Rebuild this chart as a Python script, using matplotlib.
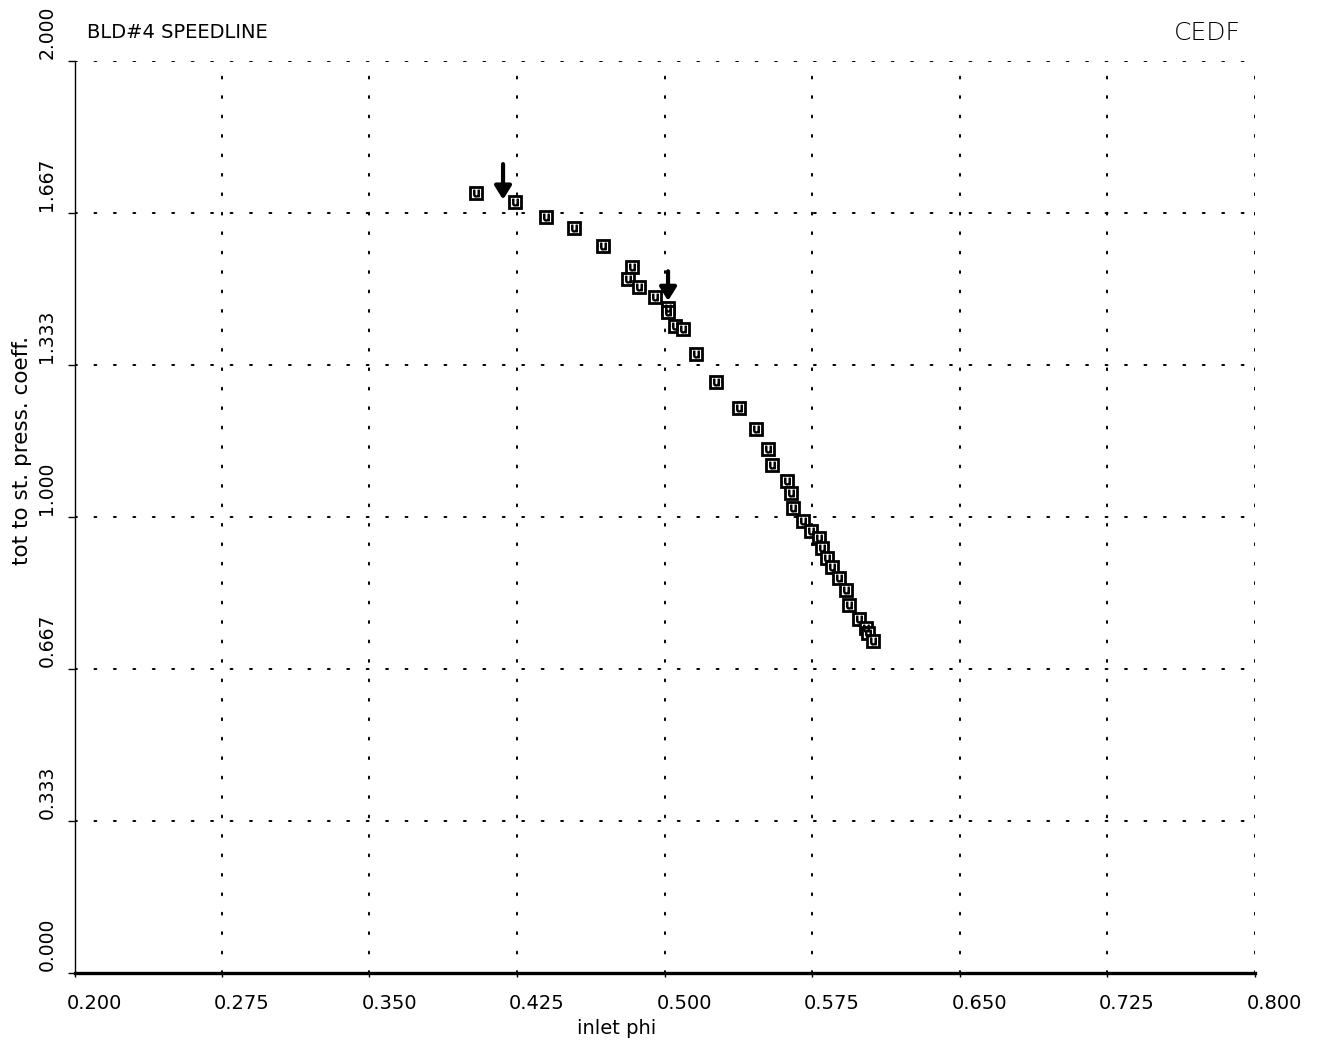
import matplotlib
matplotlib.use("Agg")
import matplotlib.pyplot as plt
import matplotlib.transforms as mtransforms

# ---- data ----
phi = [0.4042, 0.4240, 0.4397, 0.4540, 0.4687, 0.4835, 0.4814, 0.4870, 0.4952,
       0.5018, 0.5018, 0.5053, 0.5094, 0.5160, 0.5262, 0.5379, 0.5465, 0.5526,
       0.5547, 0.5623, 0.5643, 0.5653, 0.5704, 0.5745, 0.5786, 0.5801, 0.5826,
       0.5852, 0.5887, 0.5923, 0.5938, 0.5989, 0.6025, 0.6035, 0.6060]
psi = [1.710, 1.690, 1.658, 1.633, 1.594, 1.548, 1.521, 1.504, 1.482,
       1.458, 1.449, 1.418, 1.412, 1.357, 1.295, 1.240, 1.194, 1.150,
       1.113, 1.080, 1.052, 1.019, 0.992, 0.970, 0.955, 0.931, 0.911,
       0.891, 0.867, 0.841, 0.806, 0.777, 0.757, 0.746, 0.729]

arrow_x = [0.4179, 0.5018]
arrow_top = [1.780, 1.545]
arrow_tip = [1.690, 1.468]

xticks = [0.200, 0.275, 0.350, 0.425, 0.500, 0.575, 0.650, 0.725, 0.800]
xticklabels = ["0.200", "0.275", "0.350", "0.425", "0.500", "0.575", "0.650", "0.725", "0.800"]
yticks = [0.0, 1/3, 2/3, 1.0, 4/3, 5/3, 2.0]
yticklabels = ["0.000", "0.333", "0.667", "1.000", "1.333", "1.667", "2.000"]

title = "BLD#4 SPEEDLINE"
xlabel = "inlet phi"
ylabel = "tot to st. press. coeff."

W, H = 1317, 1044
fig = plt.figure(figsize=(W / 100, H / 100), dpi=100)
ax = fig.add_axes([74.5 / W, 1 - 973 / H, (1254.5 - 74.5) / W, (973 - 61) / H])
ax.set_xlim(0.200, 0.800)
ax.set_ylim(0.0, 2.0)

# dotted grid
ax.set_xticks(xticks)
ax.set_yticks(yticks)
ax.grid(True, color="black", linestyle=(0, (1, 9)), linewidth=1.4,
        dash_capstyle="round")
ax.set_axisbelow(True)

for s in ["top", "right"]:
    ax.spines[s].set_visible(False)
ax.spines["left"].set_linewidth(1.0)
ax.spines["bottom"].set_linewidth(2.4)

ax.tick_params(axis="x", length=3, width=1, pad=12, labelsize=14)
ax.tick_params(axis="y", length=5, width=1, pad=12, labelsize=13.5)
ax.set_xticklabels(xticklabels)
ax.set_yticklabels(yticklabels)
for lab in ax.get_xticklabels():
    lab.set_ha("left")
    lab.set_transform(lab.get_transform() +
                      mtransforms.ScaledTranslation(-8 / 100, 0, fig.dpi_scale_trans))
for lab in ax.get_yticklabels():
    lab.set_rotation(90)
    lab.set_va("bottom")
    lab.set_ha("center")
    lab.set_transform(lab.get_transform() +
                      mtransforms.ScaledTranslation(-4 / 100, 2 / 100, fig.dpi_scale_trans))

# data points
ax.plot(phi, psi, linestyle="none", marker="s", markersize=8.3,
        markerfacecolor="white", markeredgecolor="black", markeredgewidth=2.0,
        zorder=3)
ax.plot(phi, psi, linestyle="none", marker="$\\mathsf{u}$", markersize=5,
        color="black", zorder=4)

# arrows
for xa, yt, yb in zip(arrow_x, arrow_top, arrow_tip):
    ax.annotate("", xy=(xa, yb), xytext=(xa, yt),
                arrowprops=dict(arrowstyle="-|>,head_width=0.5,head_length=0.8",
                                color="black", lw=3), zorder=5)

fig.text(87 / W, 1 - 32 / H, title, fontsize=14, ha="left", va="center")
fig.text(617 / W, 1 - 1028 / H, xlabel, fontsize=14, ha="center", va="center")
fig.text(22 / W, 1 - 450 / H, ylabel, fontsize=15.5, ha="center", va="center",
         rotation=90)
fig.text(1207 / W, 1 - 33 / H, "CEDF", fontsize=18, ha="center", va="center",
         fontweight="light")

fig.savefig("out.png", dpi=100)
